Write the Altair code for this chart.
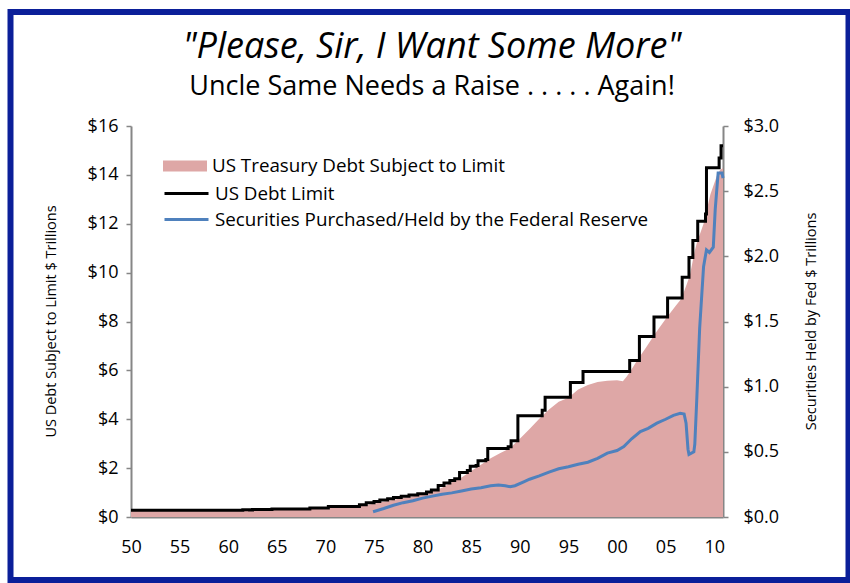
import altair as alt
import pandas as pd

SERIES = [
    "US Treasury Debt Subject to Limit",
    "US Debt Limit",
    "Securities Purchased/Held by the Federal Reserve",
]
COLORS = ["#DEA7A6", "#000000", "#4F81BD"]

# Statutory debt limit, $ trillions (value applies from the given year on)
limit_year = [1950.0, 1961.5, 1962.2, 1962.5, 1964.5, 1968.4, 1970.3, 1973.5, 1974.2, 1975.0,
              1975.6, 1976.4, 1977.0, 1977.8, 1978.6, 1979.5, 1980.4, 1980.9, 1981.6, 1982.2,
              1982.8, 1983.3, 1983.8, 1984.6, 1984.9, 1985.5, 1985.7, 1986.5, 1986.7, 1988.8,
              1989.1, 1989.8, 1992.3, 1992.6, 1995.2, 1996.5, 2001.3, 2002.3, 2003.8, 2005.2,
              2006.7, 2007.4, 2007.8, 2008.3, 2009.1, 2009.2, 2010.5, 2010.7, 2010.9]
limit_value = [0.275, 0.300, 0.285, 0.308, 0.324, 0.365, 0.430, 0.500, 0.580, 0.630,
               0.700, 0.750, 0.800, 0.850, 0.900, 0.950, 1.020, 1.100, 1.290, 1.390,
               1.490, 1.570, 1.820, 1.900, 2.080, 2.110, 2.300, 2.350, 2.800, 2.870,
               3.123, 4.145, 4.370, 4.900, 5.500, 5.950, 6.400, 7.384, 8.184, 8.965,
               9.815, 10.615, 11.315, 12.104, 12.394, 14.294, 14.694, 15.194, 15.194]

# Treasury debt subject to the limit, $ trillions
debt_year = [1950.0, 1953.0, 1956.0, 1959.0, 1962.0, 1965.0, 1968.0, 1970.0, 1972.0, 1974.0,
             1975.5, 1976.5, 1978.0, 1979.5, 1981.0, 1982.0, 1983.0, 1984.0, 1985.0, 1986.0,
             1987.0, 1988.0, 1989.0, 1990.0, 1991.0, 1992.0, 1993.0, 1994.0, 1995.0, 1996.0,
             1997.0, 1998.0, 1999.0, 2000.0, 2000.6, 2001.0, 2001.5, 2002.0, 2003.0, 2004.0,
             2005.0, 2006.0, 2006.6, 2007.2, 2007.5, 2008.0, 2008.2, 2008.9, 2009.6, 2010.3,
             2010.6, 2010.9]
debt_value = [0.257, 0.265, 0.268, 0.270, 0.290, 0.310, 0.320, 0.360, 0.410, 0.470,
              0.580, 0.660, 0.780, 0.880, 1.050, 1.200, 1.420, 1.620, 1.880, 2.140,
              2.400, 2.620, 2.820, 3.200, 3.600, 4.020, 4.400, 4.720, 4.880, 5.220,
              5.400, 5.520, 5.580, 5.600, 5.560, 5.750, 6.050, 6.360, 6.950, 7.550,
              8.100, 8.620, 8.920, 9.560, 9.900, 10.900, 11.200, 12.000, 13.200, 14.000,
              14.200, 14.280]

# Securities held by the Federal Reserve, $ trillions (right axis)
fed_year = [1974.9, 1976.0, 1977.0, 1978.0, 1979.0, 1980.0, 1981.0, 1982.0, 1983.0, 1984.0,
            1985.0, 1986.0, 1987.0, 1987.8, 1988.5, 1989.0, 1989.5, 1990.4, 1991.0, 1992.0,
            1993.0, 1994.0, 1995.0, 1996.0, 1997.0, 1998.0, 1999.0, 2000.0, 2000.7, 2001.5,
            2002.4, 2003.2, 2004.1, 2005.0, 2005.8, 2006.5, 2006.9, 2007.1, 2007.3, 2007.4,
            2007.9, 2008.0, 2008.2, 2008.5, 2008.9, 2009.2, 2009.5, 2009.9, 2010.1, 2010.4,
            2010.8, 2010.9]
fed_value = [0.040, 0.065, 0.090, 0.110, 0.125, 0.145, 0.160, 0.175, 0.185, 0.200,
             0.215, 0.225, 0.240, 0.245, 0.240, 0.232, 0.240, 0.270, 0.290, 0.315,
             0.345, 0.370, 0.385, 0.405, 0.420, 0.450, 0.490, 0.510, 0.540, 0.600,
             0.655, 0.680, 0.720, 0.750, 0.780, 0.795, 0.790, 0.720, 0.520, 0.480,
             0.500, 0.560, 0.900, 1.450, 1.920, 2.050, 2.030, 2.070, 2.360, 2.640,
             2.640, 2.600]

year_ticks = list(range(1950, 2011, 5))
left_ticks = list(range(0, 17, 2))
right_ticks = [0.0, 0.5, 1.0, 1.5, 2.0, 2.5, 3.0]

FONT = "Open Sans"
AXIS_GREY = "#868686"

debt = pd.DataFrame({"year": debt_year, "value": debt_value, "series": SERIES[0]})
limit = pd.DataFrame({"year": limit_year, "value": limit_value, "series": SERIES[1]})
fed = pd.DataFrame({"year": fed_year, "value": fed_value, "series": SERIES[2]})

legend_common = dict(
    title=None,
    orient="none",
    legendX=32,
    symbolSize=484,
    symbolOffset=11,
    labelOffset=16,
    padding=0,
    labelFont=FONT,
    labelFontSize=18.8,
    labelColor="black",
    labelLimit=600,
)

# Filled swatch for the area series
fill = alt.Fill(
    "series:N",
    scale=alt.Scale(domain=SERIES[:1], range=COLORS[:1]),
    legend=alt.Legend(
        legendY=29,
        rowPadding=4,
        symbolType="M-2,-0.5H2V0.5H-2Z",
        symbolStrokeWidth=0,
        **legend_common,
    ),
)

# Line swatches for the two line series
stroke = alt.Stroke(
    "series:N",
    scale=alt.Scale(domain=SERIES[1:], range=COLORS[1:]),
    legend=alt.Legend(
        legendY=55,
        rowPadding=3,
        symbolType="M-2,0H2",
        symbolStrokeWidth=3,
        **legend_common,
    ),
)

x = alt.X(
    "year:Q",
    scale=alt.Scale(domain=[1950, 2010.9], nice=False, zero=False),
    axis=alt.Axis(
        values=year_ticks,
        labelExpr="format(datum.value % 100, '02d')",
        labelFlush=False,
        title=None,
        ticks=False,
        grid=False,
        labelPadding=21,
    ),
)

left_axis = alt.Axis(
    values=left_ticks,
    labelExpr="'$' + datum.value",
    title="US Debt Subject to Limit $ Trillions",
    titleAngle=270,
    titleX=-80,
    titleY=195,
    titleAlign="center",
    titleBaseline="middle",
    grid=False,
    tickSize=5,
    labelPadding=8,
)
y_left = alt.Y(
    "value:Q", scale=alt.Scale(domain=[0, 16], nice=False), axis=left_axis
)

right_axis = alt.Axis(
    values=right_ticks,
    labelExpr="'$' + format(datum.value, '.1f')",
    title="Securities Held by Fed $ Trillions",
    orient="right",
    titleAngle=270,
    titleX=88,
    titleY=195,
    titleAlign="center",
    titleBaseline="middle",
    grid=False,
    tickSize=5,
    labelPadding=15,
)
y_right = alt.Y(
    "value:Q", scale=alt.Scale(domain=[0, 3], nice=False), axis=right_axis
)

debt_area = alt.Chart(debt).mark_area(opacity=1).encode(x=x, y=y_left, fill=fill)
limit_line = alt.Chart(limit).mark_line(
    interpolate="step-after", strokeWidth=3
).encode(x=x, y=y_left, stroke=stroke)
fed_line = alt.Chart(fed).mark_line(strokeWidth=3).encode(x=x, y=y_right, stroke=stroke)

# Dark blue frame around the whole graphic
frame = alt.Chart(pd.DataFrame({"frame": [0]})).mark_rect(
    fill=None, stroke="#0B1F99", strokeWidth=6
).encode(
    x=alt.value(-120.5), x2=alt.value(717.5), y=alt.value(-114), y2=alt.value(454)
)

left_layers = alt.layer(debt_area, limit_line, frame)

chart = (
    alt.layer(left_layers, fed_line)
    .resolve_scale(y="independent")
    .properties(
        width=592,
        height=391,
        autosize=alt.AutoSizeParams(type="none"),
        padding={"left": 131, "top": 126, "right": 127, "bottom": 66},
        background="white",
        title=alt.TitleParams(
            text='"Please, Sir, I Want Some More"',
            subtitle="Uncle Same Needs a Raise . . . . . Again!",
            font=FONT,
            fontSize=36,
            fontStyle="italic",
            fontWeight="normal",
            color="black",
            subtitleFont=FONT,
            subtitleFontSize=27,
            subtitleColor="black",
            subtitlePadding=8,
            anchor="middle",
            frame="group",
            offset=-92,
            dx=5,
        ),
    )
    .configure_view(stroke=None)
    .configure_axis(
        labelFont=FONT,
        labelFontSize=18,
        labelColor="black",
        titleFont=FONT,
        titleFontSize=14.5,
        titleFontWeight="normal",
        titleColor="black",
        domainColor=AXIS_GREY,
        domainWidth=2,
        tickColor=AXIS_GREY,
        tickWidth=1.5,
    )
)

chart.save("out.html", embed_options={"renderer": "svg", "actions": False})
